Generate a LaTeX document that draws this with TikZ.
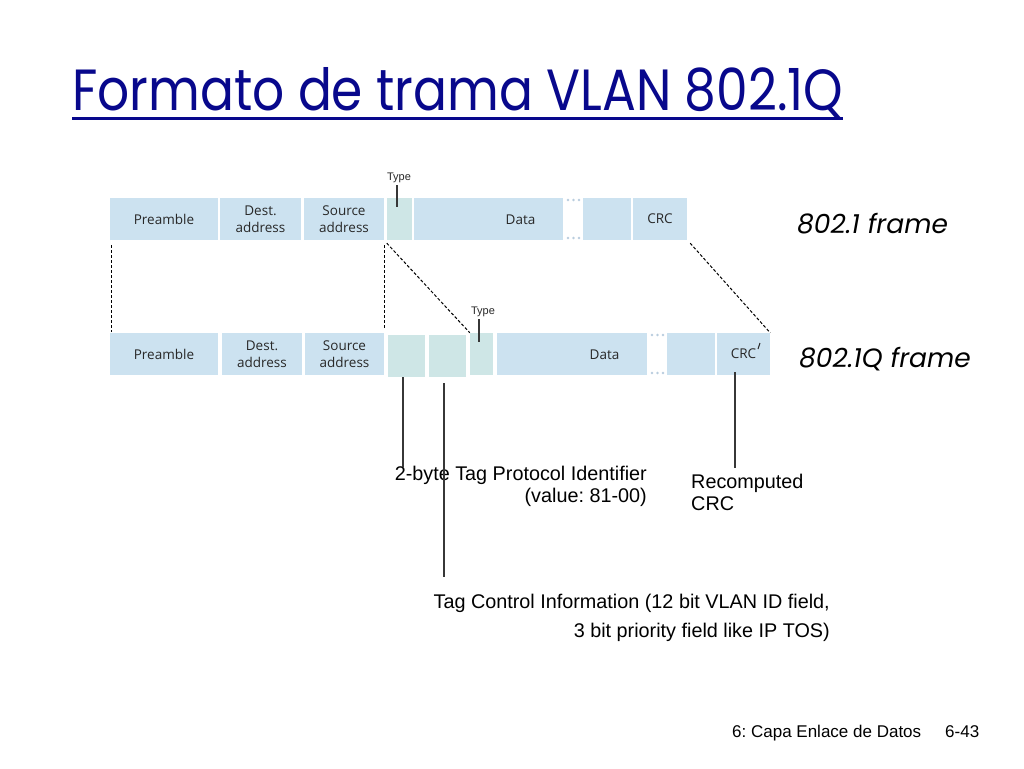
\documentclass[tikz,border=0pt]{standalone}
\usepackage{fontspec}
\setmainfont{Liberation Sans}
\newfontfamily\boxfont{Open Sans}
\newfontfamily\titlefont{Poppins}
\usetikzlibrary{calc}
\frenchspacing
\definecolor{fblue}{RGB}{204,226,240}
\definecolor{fgreen}{RGB}{206,230,230}
\definecolor{ftext}{RGB}{40,40,40}
\definecolor{tblue}{RGB}{8,8,140}
\definecolor{lead}{RGB}{55,55,55}
\definecolor{dotc}{RGB}{185,205,222}
\tikzset{
  fld/.style={fill=fblue, draw=none, inner sep=0, minimum height=42,
    font=\boxfont\fontsize{13.5}{16.5}\selectfont, text=ftext, align=center},
  grn/.style={fld, fill=fgreen},
  boxtxt/.style={inner sep=0, font=\boxfont\fontsize{13.5}{16.5}\selectfont, text=ftext},
  leader/.style={draw=lead, line width=1.3},
  dsh/.style={draw=black, line width=1, dash pattern=on 3pt off 2pt},
  ann/.style={inner sep=0, font=\fontsize{19.8}{22}\selectfont, text=black},
  typelab/.style={inner sep=0, font=\fontsize{11}{12}\selectfont, text=ftext},
  framelab/.style={inner sep=0, anchor=base west, font=\titlefont\itshape\fontsize{26.5}{29}\selectfont, text=black},
  gapdot/.style={fill=dotc, draw=none}
}
\begin{document}
\begin{tikzpicture}[x=1pt,y=-1pt]
\useasboundingbox[fill=white] (0,0) rectangle (1024,768);

% title
\node[anchor=base west, inner sep=0, text=tblue] (title) at (72,110)
  {\resizebox{771pt}{43pt}{\titlefont Formato de trama VLAN 802.1Q}};
\coordinate (ulL) at (72,118);
\coordinate (ulR) at (843,118);
\draw[tblue, line width=3] (ulL) -- (ulR);

% top frame (802.1)
\node[fld, minimum width=108] (tPre) at (164,219) {Preamble};
\node[fld, minimum width=81] (tDst) at (260.5,219) {Dest.\\address};
\node[fld, minimum width=80] (tSrc) at (344,219) {Source\\address};
\node[grn, minimum width=25] (tTyp) at (399.5,219) {};
\node[fld, minimum width=149] (tDat) at (488.5,219) {};
\node[boxtxt] (tDatT) at (520.5,220) {Data};
\node[fld, minimum width=48] (tBlk) at (607,219) {};
\node[fld, minimum width=54] (tCrc) at (660,219) {CRC};
\foreach \xx in {568,573.5,579}{
  \fill[gapdot] (\xx,200) circle (1.3);
  \fill[gapdot] (\xx,238) circle (1.3);
}
\node[typelab] (tTypL) at (399,178) {Type};
\coordinate (tTick) at (397,207);
\draw[leader] (tTypL.south -| tTick) ++(0,2) -- (tTick);

% bottom frame (802.1Q)
\node[fld, minimum width=108] (bPre) at (164,354) {Preamble};
\node[fld, minimum width=80] (bDst) at (262,354) {Dest.\\address};
\node[fld, minimum width=79] (bSrc) at (344.5,354) {Source\\address};
\node[grn, minimum width=37] (bTpi) at (406.5,356) {};
\node[grn, minimum width=37] (bTci) at (447.5,356) {};
\node[grn, minimum width=23] (bTyp) at (481.5,354) {};
\node[fld, minimum width=150] (bDat) at (572,354) {};
\node[boxtxt] (bDatT) at (604.5,355) {Data};
\node[fld, minimum width=48] (bBlk) at (691,354) {};
\node[fld, minimum width=53] (bCrc) at (743.5,354) {CRC};
\foreach \xx in {652,657.5,663}{
  \fill[gapdot] (\xx,335) circle (1.3);
  \fill[gapdot] (\xx,373) circle (1.3);
}
\coordinate (prA) at (760,343);
\coordinate (prB) at (758,349);
\draw[ftext, line width=1] (prA) -- (prB);
\node[typelab] (bTypL) at (483,312) {Type};
\coordinate (bTick) at (479,342);
\draw[leader] (bTypL.south -| bTick) ++(0,2) -- (bTick);

% dashed correspondence lines
\draw[dsh] ($(tPre.south west)+(2,5)$) -- ($(bPre.north west)+(2,-1)$);
\draw[dsh] ($(tSrc.south east)+(0,5)$) -- ($(bSrc.north east)+(0,-3)$);
\draw[dsh] ($(tTyp.south west)+(0,3)$) -- (bTyp.north west);
\draw[dsh] ($(tCrc.south east)+(3,3)$) -- (bCrc.north east);

% frame labels
\node[framelab] (lab1) at (797,233) {802.1 frame};
\node[framelab] (lab2) at (799,367) {802.1Q frame};

% annotations
\node[ann, anchor=base east] (tpid1) at (647,480) {2-byte Tag Protocol Identifier};
\node[ann, anchor=base east] (tpid2) at (647,502) {(value: 81-00)};
\node[ann, anchor=base west] (rcrc) at (691,488) {Recomputed};
\node[ann, anchor=base west] (rcrc2) at (691,510) {CRC};
\node[ann, anchor=base east] (tci1) at (830,608) {Tag Control Information (12 bit VLAN ID field,};
\node[ann, anchor=base east] (tci2) at (830,637) {3 bit priority field like IP TOS)};

\coordinate (tpidEnd) at (403,467);
\coordinate (tciEnd) at (444,577);
\coordinate (crcEnd) at (735,468);
\draw[leader] (bTpi.south -| tpidEnd) -- (tpidEnd);
\draw[leader] ($(bTci.south -| tciEnd)+(0,6)$) -- (tciEnd);
\draw[leader] ($(bCrc.south -| crcEnd)+(0,-3)$) -- (crcEnd);

% footer
\node[anchor=base west, inner sep=0, font=\fontsize{17}{19}\selectfont] (foot1) at (732,737) {6: Capa Enlace de Datos};
\node[anchor=base west, inner sep=0, font=\fontsize{17}{19}\selectfont] (foot2) at (945,737) {6-43};
\end{tikzpicture}
\end{document}
